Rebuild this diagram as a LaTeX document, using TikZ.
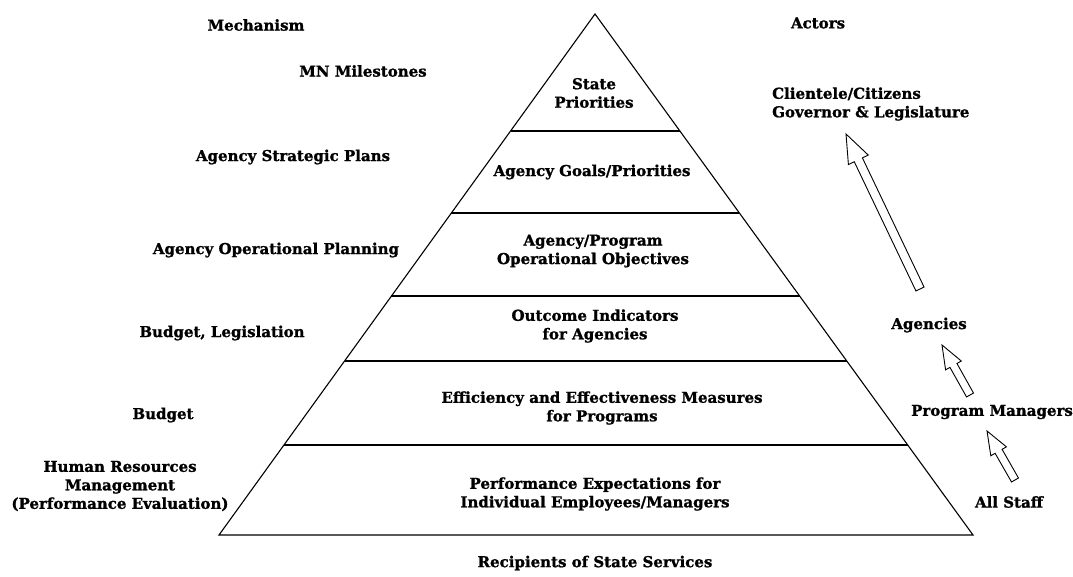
\documentclass[tikz,border=0pt]{standalone}
\usepackage{fontspec}
\setmainfont{DejaVu Serif}[BoldFeatures={FakeBold=1.2}]
\usetikzlibrary{calc}
\newcommand{\harrow}[6]{%
  \pgfmathsetmacro{\hang}{atan2(-(#4-#2),#3-#1)}%
  \pgfmathsetmacro{\hlen}{veclen(#3-#1,#4-#2)}%
  \pgfmathsetmacro{\hbase}{\hlen-#6*2.6}%
  \begin{scope}[shift={(#1,#2)}, x=1pt, y=1pt, rotate=\hang]
  \draw[hollow] (0,-#5) -- (\hbase,-#5) -- (\hbase,-#6) -- (\hlen,0) -- (\hbase,#6) -- (\hbase,#5) -- (0,#5) -- cycle;
  \end{scope}}
\begin{document}
\begin{tikzpicture}[x=1pt,y=-1pt,
  lbl/.style={font=\bfseries\fontsize{15}{18.5}\selectfont, align=center, inner sep=0pt},
  edge/.style={line width=1.1pt, black},
  hollow/.style={draw=black, line width=0.9pt, fill=white, line join=miter}]
\useasboundingbox (0,0) rectangle (1073,577);
% pyramid
\coordinate (apex) at (595,14);
\coordinate (bl) at (219,535);
\coordinate (br) at (973,535);
\draw[edge] (apex) -- (bl) -- (br) -- cycle;
\foreach \y in {131,213,296,361,445}{
  \pgfmathsetmacro{\t}{(\y-14)/521}
  \draw[edge] ($(apex)!\t!(bl)$) -- ($(apex)!\t!(br)$);
}
% centre labels
\node[lbl] (n1) at (594,93) {State\\Priorities};
\node[lbl] (n2) at (592,172) {Agency Goals/Priorities};
\node[lbl] (n3) at (593,251) {Agency/Program\\Operational Objectives};
\node[lbl] (n4) at (595,326) {Outcome Indicators\\for Agencies};
\node[lbl] (n5) at (602,408) {Efficiency and Effectiveness Measures\\for Programs};
\node[lbl] (n6) at (595,494) {Performance Expectations for\\Individual Employees/Managers};
\node[lbl] (rec) at (595,563) {Recipients of State Services};
% left
\node[lbl] (mech) at (256,25) {Mechanism};
\node[lbl] (m1) at (363,71) {MN Milestones};
\node[lbl] (m2) at (293,157) {Agency Strategic Plans};
\node[lbl] (m3) at (276,250) {Agency Operational Planning};
\node[lbl] (m4) at (222,333) {Budget, Legislation};
\node[lbl] (m5) at (163,415) {Budget};
\node[lbl] (m6) at (120,486) {Human Resources\\Management\\(Performance Evaluation)};
% right
\node[lbl] (act) at (818,23) {Actors};
\node[lbl, align=left, anchor=west] (a1) at (772,104) {Clientele/Citizens\\Governor \& Legislature};
\node[lbl] (a2) at (929,325) {Agencies};
\node[lbl] (a3) at (992,412) {Program Managers};
\node[lbl] (a4) at (1009,502) {All Staff};
% hollow arrows
\harrow{920}{289}{846}{134}{4.5}{11}
\harrow{970}{395}{942}{345}{4}{9}
\harrow{1015}{480}{987}{431}{4}{9}
\end{tikzpicture}
\end{document}
